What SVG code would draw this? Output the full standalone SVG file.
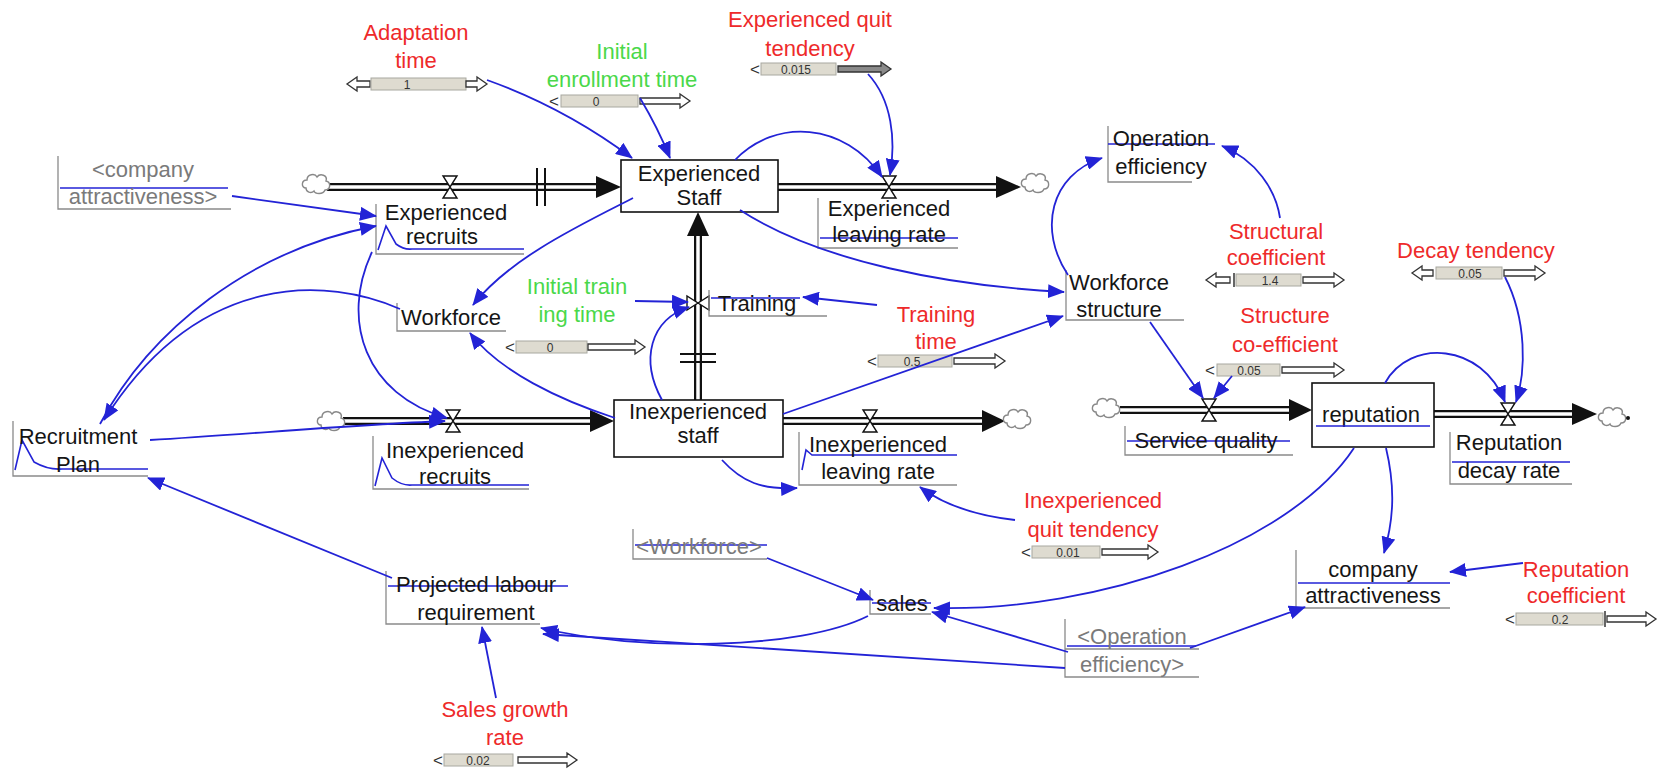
<svg xmlns="http://www.w3.org/2000/svg" width="1659" height="778" viewBox="0 0 1659 778">
<style>
  text { font-family: "Liberation Sans", Arial, sans-serif; font-size: 22px; text-anchor: middle; }
  .blk { fill: #151515; }
  .red { fill: #ee2a2a; }
  .grn { fill: #4ad84a; }
  .gry { fill: #7a7a7a; }
  .val { font-size: 12px; fill: #333; }
  .lt { font-size: 17px; fill: #333; }
  .frame { fill: none; stroke: #8a8a8a; stroke-width: 1.3; }
  .look { fill: none; stroke: #2323d6; stroke-width: 1.6; }
  .link { fill: none; stroke: #2323d6; stroke-width: 1.8; marker-end: url(#ah); }
  .stock { fill: #fff; stroke: #111; stroke-width: 1.6; }
  .pipeO { fill: none; stroke: #111; stroke-width: 8; }
  .pipeI { fill: none; stroke: #fff; stroke-width: 3.5; }
  .pipeHead { fill: #111; }
  .valve { fill: #fff; stroke: #111; stroke-width: 1.4; }
  .cloud { fill: #fff; stroke: #888; stroke-width: 1.4; }
  .bars { stroke: #111; stroke-width: 2; }
  .sbox { fill: #dedbd0; stroke: #a8a8a0; stroke-width: 1; }
  .sarr { fill: #fff; stroke: #333; stroke-width: 1.3; }
  .sarrD { fill: #8a8a8a; stroke: #333; stroke-width: 1.3; }
</style>
<defs>
  <marker id="ah" markerUnits="userSpaceOnUse" markerWidth="18" markerHeight="14" refX="16" refY="7" orient="auto">
    <path d="M0,0 L17,7 L0,14 Z" fill="#2323d6"/>
  </marker>
  <path id="cloud" class="cloud" d="M-10,4 C-15,4 -15,-4 -9,-4 C-9,-10 -1,-11 1,-7 C4,-11 12,-9 10,-3 C15,-2 15,6 9,6 C7,11 -1,10 -2,7 C-5,10 -10,8 -10,4 Z"/>
  <path id="valve" class="valve" d="M-7,-11 H7 L-7,11 H7 Z"/>
</defs>
<rect width="1659" height="778" fill="#fff"/>

<!-- material flows -->
<g id="flows">
  <!-- Experienced recruits -->
  <path class="pipeO" d="M327,187 H598"/><path class="pipeI" d="M327,187 H598"/>
  <path class="pipeHead" d="M596,176 L621,187 L596,198 Z"/>
  <line class="bars" x1="537" y1="168" x2="537" y2="206"/><line class="bars" x1="545" y1="168" x2="545" y2="206"/>
  <use href="#cloud" x="316" y="184"/>
  <use href="#valve" x="450" y="187"/>
  <!-- Experienced leaving rate -->
  <path class="pipeO" d="M778,187 H1000"/><path class="pipeI" d="M778,187 H1000"/>
  <path class="pipeHead" d="M996,176 L1021,187 L996,198 Z"/>
  <use href="#cloud" x="1035" y="183"/>
  <use href="#valve" x="889" y="187"/>
  <!-- Training -->
  <path class="pipeO" d="M698,400 V232"/><path class="pipeI" d="M698,400 V232"/>
  <path class="pipeHead" d="M687,236 L698,212 L709,236 Z"/>
  <line class="bars" x1="680" y1="354" x2="716" y2="354"/><line class="bars" x1="680" y1="362" x2="716" y2="362"/>
  <use href="#valve" transform="translate(698,303) rotate(90)"/>
  <!-- Inexperienced recruits -->
  <path class="pipeO" d="M343,421 H592"/><path class="pipeI" d="M343,421 H592"/>
  <path class="pipeHead" d="M590,410 L614,421 L590,432 Z"/>
  <use href="#cloud" x="331" y="421"/>
  <use href="#valve" x="453" y="421"/>
  <!-- Inexperienced leaving rate -->
  <path class="pipeO" d="M783,421 H985"/><path class="pipeI" d="M783,421 H985"/>
  <path class="pipeHead" d="M982,410 L1005,421 L982,432 Z"/>
  <use href="#cloud" x="1017" y="419"/>
  <use href="#valve" x="870" y="421"/>
  <!-- Service quality -->
  <path class="pipeO" d="M1120,410 H1292"/><path class="pipeI" d="M1120,410 H1292"/>
  <path class="pipeHead" d="M1289,399 L1312,410 L1289,421 Z"/>
  <use href="#cloud" x="1106" y="408"/>
  <use href="#valve" x="1209" y="410"/>
  <!-- Reputation decay rate -->
  <path class="pipeO" d="M1434,414 H1575"/><path class="pipeI" d="M1434,414 H1575"/>
  <path class="pipeHead" d="M1572,403 L1597,414 L1572,425 Z"/>
  <use href="#cloud" x="1612" y="417"/>
  <circle cx="1628" cy="418" r="2" fill="#111"/>
  <use href="#valve" x="1508" y="414"/>
</g>

<!-- stocks -->
<g id="experienced-staff">
  <rect class="stock" x="621" y="160" width="157" height="52"/>
  <text class="blk" x="699" y="181">Experienced</text>
  <text class="blk" x="699" y="205">Staff</text>
</g>
<g id="inexperienced-staff">
  <rect class="stock" x="614" y="400" width="169" height="57"/>
  <text class="blk" x="698" y="419">Inexperienced</text>
  <text class="blk" x="698" y="443">staff</text>
</g>
<g id="reputation">
  <rect class="stock" x="1312" y="383" width="122" height="64"/>
  <text class="blk" x="1371" y="422">reputation</text>
  <line class="look" x1="1316" y1="426" x2="1430" y2="426"/>
</g>

<!-- auxiliaries and rates -->
<g id="experienced-recruits">
  <path class="frame" d="M376,204 V254 H524"/>
  <path class="look" d="M378,250 L386,226 L396,244 Q404,250 412,249 H524"/>
  <text class="blk" x="446" y="220">Experienced</text>
  <text class="blk" x="442" y="244">recruits</text>
</g>
<g id="experienced-leaving-rate">
  <path class="frame" d="M818,198 V248 H958"/>
  <line class="look" x1="820" y1="238" x2="958" y2="238"/>
  <text class="blk" x="889" y="216">Experienced</text>
  <text class="blk" x="889" y="242">leaving rate</text>
</g>
<g id="company-attractiveness-shadow">
  <path class="frame" d="M58,156 V209 H231"/>
  <line class="look" x1="60" y1="188" x2="228" y2="188"/>
  <text class="gry" x="143" y="177">&lt;company</text>
  <text class="gry" x="143" y="204">attractiveness&gt;</text>
</g>
<g id="operation-efficiency">
  <path class="frame" d="M1108,126 V182 H1192"/>
  <line class="look" x1="1108" y1="144" x2="1215" y2="144"/>
  <text class="blk" x="1161" y="146">Operation</text>
  <text class="blk" x="1161" y="174">efficiency</text>
</g>
<g id="workforce-structure">
  <path class="frame" d="M1066,270 V320 H1184"/>
  <text class="blk" x="1119" y="290">Workforce</text>
  <text class="blk" x="1119" y="317">structure</text>
</g>
<g id="workforce">
  <path class="frame" d="M397,303 V331 H506"/>
  <text class="blk" x="451" y="325">Workforce</text>
</g>
<g id="training">
  <path class="frame" d="M709,290 V316 H827"/>
  <line class="look" x1="711" y1="298" x2="800" y2="298"/>
  <text class="blk" x="757" y="311">Training</text>
</g>
<g id="inexperienced-recruits">
  <path class="frame" d="M373,436 V489 H529"/>
  <path class="look" d="M375,486 L382,458 L392,478 Q402,486 412,485 H529"/>
  <text class="blk" x="455" y="458">Inexperienced</text>
  <text class="blk" x="455" y="484">recruits</text>
</g>
<g id="inexperienced-leaving-rate">
  <path class="frame" d="M799,432 V485 H957"/>
  <path class="look" d="M802,470 L806,450 L812,455 H957"/>
  <text class="blk" x="878" y="452">Inexperienced</text>
  <text class="blk" x="878" y="479">leaving rate</text>
</g>
<g id="recruitment-plan">
  <path class="frame" d="M13,421 V476 H148"/>
  <path class="look" d="M15,470 L22,440 L34,462 Q48,470 62,469 H148"/>
  <text class="blk" x="78" y="444">Recruitment</text>
  <text class="blk" x="78" y="472">Plan</text>
</g>
<g id="projected-labour-requirement">
  <path class="frame" d="M386,571 V624 H540"/>
  <line class="look" x1="388" y1="586" x2="568" y2="586"/>
  <text class="blk" x="476" y="592">Projected labour</text>
  <text class="blk" x="476" y="620">requirement</text>
</g>
<g id="workforce-shadow">
  <path class="frame" d="M633,529 V559 H767"/>
  <line class="look" x1="635" y1="545" x2="767" y2="545"/>
  <text class="gry" x="699" y="554">&lt;Workforce&gt;</text>
</g>
<g id="sales">
  <path class="frame" d="M870,590 V614 H931"/>
  <line class="look" x1="872" y1="603" x2="931" y2="603"/>
  <text class="blk" x="902" y="611">sales</text>
</g>
<g id="operation-efficiency-shadow">
  <path class="frame" d="M1065,619 V677 H1199"/>
  <line class="frame" x1="1065" y1="649" x2="1199" y2="649"/>
  <line class="look" x1="1067" y1="646" x2="1196" y2="646"/>
  <text class="gry" x="1132" y="644">&lt;Operation</text>
  <text class="gry" x="1132" y="672">efficiency&gt;</text>
</g>
<g id="service-quality">
  <path class="frame" d="M1125,426 V455 H1293"/>
  <line class="look" x1="1127" y1="441" x2="1290" y2="441"/>
  <text class="blk" x="1206" y="448">Service quality</text>
</g>
<g id="reputation-decay-rate">
  <path class="frame" d="M1450,432 V484 H1572"/>
  <line class="look" x1="1452" y1="462" x2="1570" y2="462"/>
  <text class="blk" x="1509" y="450">Reputation</text>
  <text class="blk" x="1509" y="478">decay rate</text>
</g>
<g id="company-attractiveness">
  <path class="frame" d="M1296,550 V608 H1450"/>
  <line class="look" x1="1298" y1="583" x2="1450" y2="583"/>
  <text class="blk" x="1373" y="577">company</text>
  <text class="blk" x="1373" y="603">attractiveness</text>
</g>

<!-- constants with sliders -->
<g id="adaptation-time">
  <text class="red" x="416" y="40">Adaptation</text>
  <text class="red" x="416" y="68">time</text>
  <path class="sarr" d="M370,81 H357 V77 L347,84 L357,91 V87 H370 Z"/>
  <rect class="sbox" x="371" y="78" width="95" height="12"/>
  <text class="val" x="407" y="89">1</text>
  <path class="sarr" d="M466,81 H477 V77 L487,84 L477,91 V87 H466 Z"/>
</g>
<g id="initial-enrollment-time">
  <text class="grn" x="622" y="59">Initial</text>
  <text class="grn" x="622" y="87">enrollment time</text>
  <text class="lt" x="554" y="107">&lt;</text>
  <rect class="sbox" x="561" y="95" width="77" height="12"/>
  <text class="val" x="596" y="106">0</text>
  <path class="sarr" d="M640,98 H680 V94 L690,101 L680,108 V104 H640 Z"/>
</g>
<g id="experienced-quit-tendency">
  <text class="red" x="810" y="27">Experienced quit</text>
  <text class="red" x="810" y="56">tendency</text>
  <text class="lt" x="755" y="75">&lt;</text>
  <rect class="sbox" x="761" y="63" width="75" height="12"/>
  <text class="val" x="796" y="74">0.015</text>
  <path class="sarrD" d="M838,66 H881 V62 L891,69 L881,76 V72 H838 Z"/>
</g>
<g id="structural-coefficient">
  <text class="red" x="1276" y="239">Structural</text>
  <text class="red" x="1276" y="265">coefficient</text>
  <path class="sarr" d="M1230,277 H1216 V273 L1206,280 L1216,287 V283 H1230 Z"/>
  <line x1="1234" y1="273" x2="1234" y2="287" stroke="#333" stroke-width="1.5"/>
  <rect class="sbox" x="1236" y="274" width="65" height="12"/>
  <text class="val" x="1270" y="285">1.4</text>
  <path class="sarr" d="M1303,277 H1334 V273 L1344,280 L1334,287 V283 H1303 Z"/>
</g>
<g id="decay-tendency">
  <text class="red" x="1476" y="258">Decay tendency</text>
  <path class="sarr" d="M1433,270 H1422 V266 L1412,273 L1422,280 V276 H1433 Z"/>
  <rect class="sbox" x="1436" y="267" width="66" height="12"/>
  <text class="val" x="1470" y="278">0.05</text>
  <path class="sarr" d="M1504,270 H1535 V266 L1545,273 L1535,280 V276 H1504 Z"/>
</g>
<g id="structure-co-efficient">
  <text class="red" x="1285" y="323">Structure</text>
  <text class="red" x="1285" y="352">co-efficient</text>
  <text class="lt" x="1210" y="376">&lt;</text>
  <rect class="sbox" x="1217" y="364" width="63" height="12"/>
  <text class="val" x="1249" y="375">0.05</text>
  <path class="sarr" d="M1282,367 H1334 V363 L1344,370 L1334,377 V373 H1282 Z"/>
</g>
<g id="initial-training-time">
  <text class="grn" x="577" y="294">Initial train</text>
  <text class="grn" x="577" y="322">ing time</text>
  <text class="lt" x="510" y="353">&lt;</text>
  <rect class="sbox" x="516" y="341" width="71" height="12"/>
  <text class="val" x="550" y="352">0</text>
  <path class="sarr" d="M588,344 H635 V340 L645,347 L635,354 V350 H588 Z"/>
</g>
<g id="training-time">
  <text class="red" x="936" y="322">Training</text>
  <text class="red" x="936" y="349">time</text>
  <text class="lt" x="872" y="367">&lt;</text>
  <rect class="sbox" x="878" y="355" width="74" height="12"/>
  <text class="val" x="912" y="366">0.5</text>
  <path class="sarr" d="M954,358 H995 V354 L1005,361 L995,368 V364 H954 Z"/>
</g>
<g id="inexperienced-quit-tendency">
  <text class="red" x="1093" y="508">Inexperienced</text>
  <text class="red" x="1093" y="537">quit tendency</text>
  <text class="lt" x="1026" y="558">&lt;</text>
  <rect class="sbox" x="1032" y="546" width="68" height="12"/>
  <text class="val" x="1068" y="557">0.01</text>
  <path class="sarr" d="M1102,549 H1148 V545 L1158,552 L1148,559 V555 H1102 Z"/>
</g>
<g id="sales-growth-rate">
  <text class="red" x="505" y="717">Sales growth</text>
  <text class="red" x="505" y="745">rate</text>
  <text class="lt" x="438" y="766">&lt;</text>
  <rect class="sbox" x="444" y="754" width="69" height="12"/>
  <text class="val" x="478" y="765">0.02</text>
  <path class="sarr" d="M518,757 H567 V753 L577,760 L567,767 V763 H518 Z"/>
</g>
<g id="reputation-coefficient">
  <text class="red" x="1576" y="577">Reputation</text>
  <text class="red" x="1576" y="603">coefficient</text>
  <text class="lt" x="1510" y="625">&lt;</text>
  <rect class="sbox" x="1516" y="613" width="87" height="12"/>
  <text class="val" x="1560" y="624">0.2</text>
  <line x1="1605" y1="611" x2="1605" y2="627" stroke="#333" stroke-width="1.5"/>
  <path class="sarr" d="M1607,616 H1646 V612 L1656,619 L1646,626 V622 H1607 Z"/>
</g>

<!-- information links -->
<g id="connectors">
  <path class="link" d="M487,80 Q565,108 632,158"/>
  <path class="link" d="M640,98 Q658,128 670,158"/>
  <path class="link" d="M868,74 C892,100 896,140 890,175"/>
  <path class="link" d="M735,160 C775,118 845,122 882,177"/>
  <path class="link" d="M232,196 L376,216"/>
  <path class="link" d="M100,424 C150,330 250,250 376,226"/>
  <path class="link" d="M372,252 C340,320 365,395 447,418"/>
  <path class="link" d="M633,198 C580,225 510,258 473,305"/>
  <path class="link" d="M615,418 C560,400 500,372 470,333"/>
  <path class="link" d="M400,309 C330,278 200,268 104,420"/>
  <path class="link" d="M150,440 C250,434 350,425 445,421"/>
  <path class="link" d="M392,578 L148,478"/>
  <path class="link" d="M868,616 C800,650 640,652 541,628"/>
  <path class="link" d="M1065,668 L543,634"/>
  <path class="link" d="M1068,652 L932,612"/>
  <path class="link" d="M1190,648 L1305,607"/>
  <path class="link" d="M767,558 L873,600"/>
  <path class="link" d="M1354,448 C1290,545 1100,612 934,608"/>
  <path class="link" d="M1386,448 C1396,490 1393,522 1384,553"/>
  <path class="link" d="M1523,563 L1450,572"/>
  <path class="link" d="M1385,383 C1410,338 1482,343 1505,402"/>
  <path class="link" d="M1505,277 C1527,320 1526,372 1516,402"/>
  <path class="link" d="M1150,322 L1203,398"/>
  <path class="link" d="M1232,376 L1214,398"/>
  <path class="link" d="M1280,218 C1276,190 1256,160 1222,146"/>
  <path class="link" d="M1068,275 C1038,230 1050,175 1102,158"/>
  <path class="link" d="M740,210 C820,262 950,286 1064,292"/>
  <path class="link" d="M783,414 L1063,316"/>
  <path class="link" d="M877,305 L803,297"/>
  <path class="link" d="M635,301 L688,302"/>
  <path class="link" d="M662,400 C640,360 650,320 689,307"/>
  <path class="link" d="M722,460 C742,482 762,490 797,488"/>
  <path class="link" d="M1015,520 C980,516 945,506 920,487"/>
  <path class="link" d="M496,698 L482,627"/>
</g>
</svg>
